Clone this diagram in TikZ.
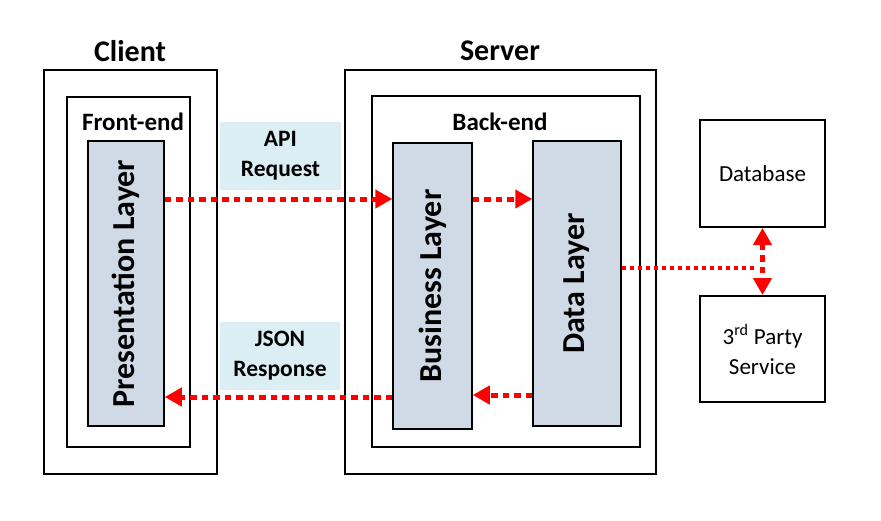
\documentclass[tikz,border=0pt]{standalone}
\usepackage{fontspec}
\setmainfont{Carlito}
\usetikzlibrary{arrows.meta}
\definecolor{layerfill}{HTML}{CFDAE6}
\definecolor{labelfill}{HTML}{DAEEF3}
\definecolor{flowred}{HTML}{FF0000}
\begin{document}
\begin{tikzpicture}[x=1pt,y=-1pt,
  box/.style={draw=black,line width=2pt,inner sep=0pt,fill=white},
  layer/.style={draw=black,line width=1.5pt,inner sep=0pt,fill=layerfill,rotate=90,
     font=\fontsize{32}{38}\selectfont\bfseries},
  tag/.style={fill=labelfill,inner sep=0pt,minimum width=121pt,minimum height=68pt,
     align=center,font=\fontsize{23.5}{30}\selectfont\bfseries},
  title/.style={font=\fontsize{30}{36}\selectfont\bfseries,inner sep=0pt},
  subtitle/.style={font=\fontsize{25}{30}\selectfont\bfseries,inner sep=0pt},
  ext/.style={box,align=center,minimum width=125pt,font=\fontsize{23}{30}\selectfont},
  flow/.style={draw=flowred,line width=5pt,dash pattern=on 6.5pt off 5pt,
     -{Triangle[length=17pt,width=18pt]}},
  thinflow/.style={draw=flowred,line width=3.5pt,dash pattern=on 4.5pt off 3.5pt}]
\useasboundingbox (0,0) rectangle (881,520);
% containers
\node[box,minimum width=173pt,minimum height=404pt] (client) at (130.5,272) {};
\node[box,minimum width=123pt,minimum height=350pt] (front) at (128.5,272) {};
\node[box,minimum width=311pt,minimum height=404pt] (server) at (500.5,272) {};
\node[box,minimum width=268pt,minimum height=351pt] (back) at (506,271.5) {};
% titles
\node[title] (tclient) at (130,51) {Client};
\node[title] (tserver) at (500,51) {Server};
\node[subtitle] (tfront) at (133,122) {Front-end};
\node[subtitle] (tback) at (500,122) {Back-end};
% layers
\node[layer,minimum width=285pt,minimum height=76pt] (pres) at (126,283.5) {Presentation Layer};
\node[layer,minimum width=286pt,minimum height=79pt] (business) at (432.5,286) {Business Layer};
\node[layer,minimum width=285pt,minimum height=88pt] (data) at (577,283.5) {Data Layer};
% labels
\node[tag] (req) at (280.5,156) {API\\Request};
\node[tag,minimum width=120pt] (resp) at (280,356) {JSON\\Response};
% external
\node[ext,minimum height=107pt] (db) at (762.5,173.5) {Database};
\node[ext,minimum height=106pt] (third) at (762.5,349) {3\textsuperscript{rd} Party\\Service};
% flows
\draw[flow] (pres.south |- 0,199) -- (business.north |- 0,199);
\draw[flow] (business.south |- 0,199) -- (data.north |- 0,199);
\draw[flow] (data.north |- 0,395) -- (business.south |- 0,395);
\draw[flow] (business.north |- 0,397) -- (pres.south |- 0,397);
\coordinate (junction) at (757,268);
\draw[thinflow] (data.south |- junction) -- (junction);
\draw[flow,{Triangle[length=17pt,width=18pt]}-{Triangle[length=17pt,width=18pt]}] (db.south) -- (third.north);
\end{tikzpicture}
\end{document}
